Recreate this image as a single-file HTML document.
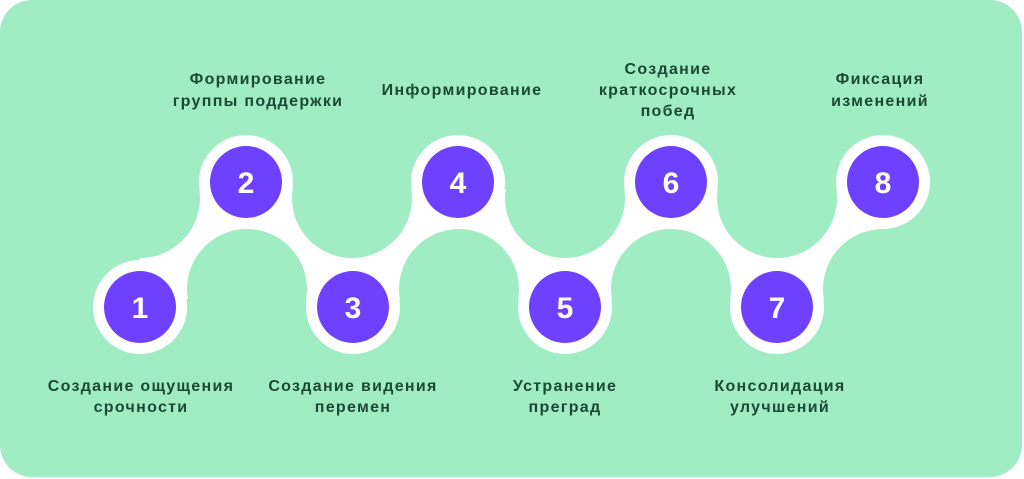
<!DOCTYPE html>
<html><head><meta charset="utf-8"><style>
html,body{margin:0;padding:0;background:#fff;width:1024px;height:479px;overflow:hidden}
text{font-family:"Liberation Sans",sans-serif;font-weight:bold}
</style></head><body>
<svg width="1024" height="479" viewBox="0 0 1024 479" xmlns="http://www.w3.org/2000/svg">
<rect x="0" y="0" width="1022" height="477" rx="32" fill="#A0EDC4"/>
<g fill="#fff">
<polygon points="140,307 140,198 246,182 247,289"/>
<polygon points="246,182 247,289 353,307 352,198"/>
<polygon points="353,307 352,198 458,182 459,289"/>
<polygon points="458,182 459,289 565,307 565,198"/>
<polygon points="565,307 565,198 671,182 671,289"/>
<polygon points="671,182 671,289 777,307 777,198"/>
<polygon points="777,307 777,198 883,182 883,289"/>
</g>
<g fill="#A0EDC4">
<circle cx="140" cy="198" r="60"/><circle cx="352" cy="198" r="60"/><circle cx="565" cy="198" r="60"/><circle cx="777" cy="198" r="60"/>
<circle cx="247" cy="289" r="60"/><circle cx="459" cy="289" r="60"/><circle cx="671" cy="289" r="60"/><circle cx="883" cy="289" r="60"/>
</g>
<g fill="#fff">
<circle cx="140" cy="307" r="47"/><circle cx="246" cy="182" r="47"/><circle cx="353" cy="307" r="47"/><circle cx="458" cy="182" r="47"/>
<circle cx="565" cy="307" r="47"/><circle cx="671" cy="182" r="47"/><circle cx="777" cy="307" r="47"/><circle cx="883" cy="182" r="47"/>
</g>
<g fill="#6E40FF">
<circle cx="140" cy="307" r="36"/><circle cx="246" cy="182" r="36"/><circle cx="353" cy="307" r="36"/><circle cx="458" cy="182" r="36"/>
<circle cx="565" cy="307" r="36"/><circle cx="671" cy="182" r="36"/><circle cx="777" cy="307" r="36"/><circle cx="883" cy="182" r="36"/>
</g>
<g fill="#fff" font-size="30" text-anchor="middle">
<text x="140" y="318">1</text><text x="246" y="193">2</text><text x="353" y="318">3</text><text x="458" y="193">4</text>
<text x="565" y="318">5</text><text x="671" y="193">6</text><text x="777" y="318">7</text><text x="883" y="193">8</text>
</g>
<g fill="#1A4A31" font-size="16" text-anchor="middle" letter-spacing="1.3">
<text x="258" y="84">Формирование</text><text x="258" y="106">группы поддержки</text>
<text x="462" y="95">Информирование</text>
<text x="668" y="74">Создание</text><text x="668" y="95">краткосрочных</text><text x="668" y="116">побед</text>
<text x="880" y="84">Фиксация</text><text x="880" y="106">изменений</text>
<text x="141" y="391">Создание ощущения</text><text x="141" y="412">срочности</text>
<text x="353" y="391">Создание видения</text><text x="353" y="412">перемен</text>
<text x="565" y="391">Устранение</text><text x="565" y="412">преград</text>
<text x="780" y="391">Консолидация</text><text x="780" y="412">улучшений</text>
</g>
</svg>
</body></html>
